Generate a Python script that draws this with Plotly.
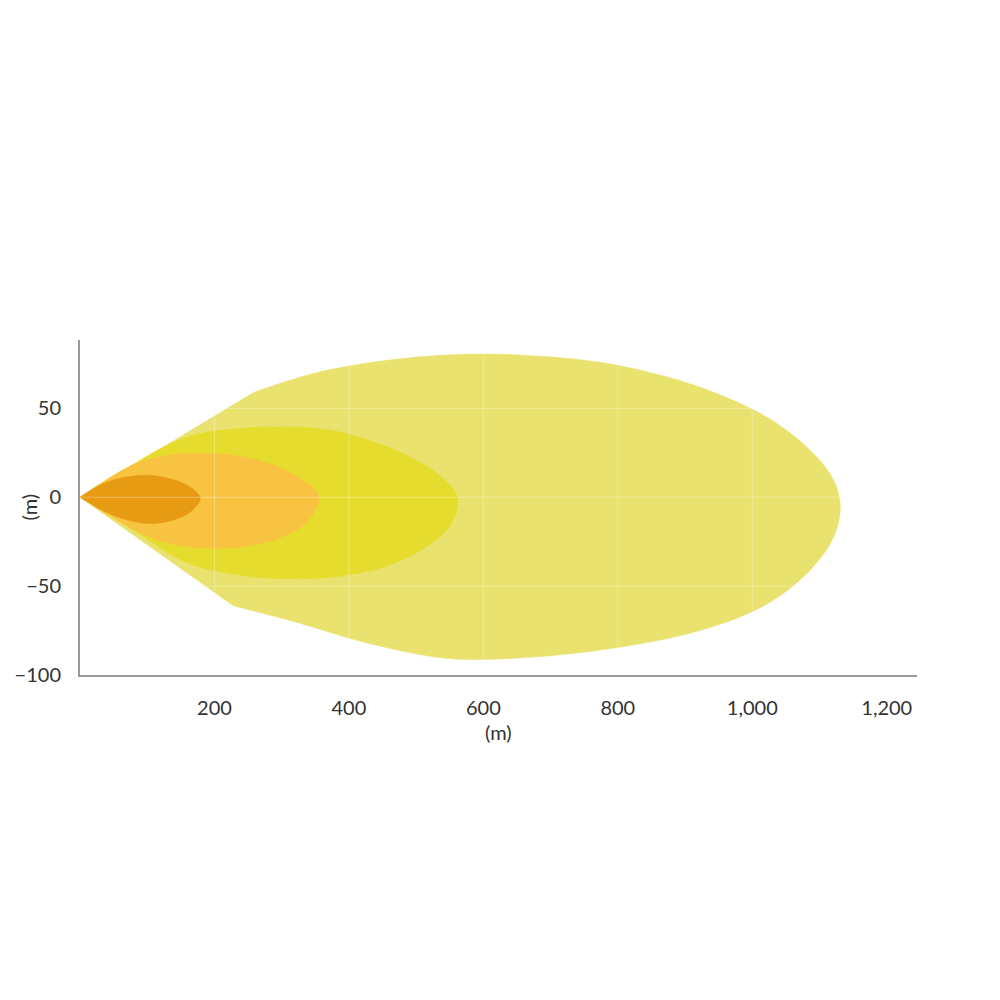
import plotly.graph_objects as go

# Iso-zone outlines (m); repeated points keep sharp corners with spline smoothing
outer_x = [0, 0, 258, 258, 340, 427, 520, 600, 680, 774, 850, 922, 1022, 1086, 1121, 1131, 1121, 1086, 1022, 922, 774, 625, 541, 427, 328, 228, 228, 0]
outer_y = [0, 0, 59, 59, 69, 75.5, 79.5, 80.6, 79.5, 76, 70, 62, 45, 26.5, 9.6, -5.5, -22.4, -41, -60, -75, -86, -91, -90.5, -82, -71, -61, -61, 0]

mid_x = [0, 0, 70, 120, 170, 230, 300, 370, 430, 476, 531, 561, 551, 511, 452, 377, 303, 241, 157, 80, 0]
mid_y = [0, 0, 16.3, 27.5, 35, 38.5, 39.6, 38, 32, 25.5, 13.4, 0.2, -15.8, -28.9, -39.3, -44.9, -45.8, -44, -36.5, -18.6, 0]

light_x = [0, 0, 82.5, 142, 201, 266, 320, 355, 340, 301, 241, 191.5, 132, 82.5, 0]
light_y = [0, 0, 19, 24.2, 24.6, 20.9, 12.4, 1.1, -13, -22.4, -28, -28.6, -26, -18.6, 0]

dark_x = [0, 0, 28, 60, 102, 142, 167, 179, 164, 137, 102, 63, 33, 0]
dark_y = [0, 0, 6.5, 10.8, 12.4, 9.6, 4.9, -0.7, -8.3, -13, -14.8, -12, -7.3, 0]

zone_colors = ["#E9E26E", "#E6DC2E", "#F9C342", "#E69B12"]

x_ticks = [200, 400, 600, 800, 1000, 1200]
y_ticks = [-100, -50, 0, 50]
x_range = [0, 1245]
y_range = [-100, 88.5]

fig = go.Figure()
for xs, ys, c in [(outer_x, outer_y, zone_colors[0]), (mid_x, mid_y, zone_colors[1]),
                  (light_x, light_y, zone_colors[2]), (dark_x, dark_y, zone_colors[3])]:
    fig.add_trace(go.Scatter(x=xs, y=ys, mode="lines", fill="toself", fillcolor=c,
                             line=dict(color=c, width=0.5, shape="spline", smoothing=1.0),
                             hoverinfo="skip", showlegend=False))

# faint grid drawn above the zones
shapes = []
for v in x_ticks[:-1]:
    shapes.append(dict(type="line", xref="x", yref="y", x0=v, x1=v, y0=y_range[0], y1=y_range[1],
                       line=dict(color="rgba(255,255,255,0.3)", width=1), layer="above"))
for v in y_ticks[1:]:
    shapes.append(dict(type="line", xref="x", yref="y", x0=x_range[0], x1=x_range[1], y0=v, y1=v,
                       line=dict(color="rgba(255,255,255,0.3)", width=1), layer="above"))

font = dict(family="Lato, 'Open Sans', sans-serif", size=20, color="#333333")
fig.update_layout(
    width=1000, height=1000,
    margin=dict(l=72, r=91, t=332, b=333),
    paper_bgcolor="white", plot_bgcolor="white",
    shapes=shapes,
    font=font,
    xaxis=dict(range=x_range, tickvals=x_ticks, tickformat=",", showgrid=False, zeroline=False,
               showline=True, linecolor="#9a9a9a", linewidth=2, ticks="", ticklabelstandoff=14,
               automargin=False, tickfont=font),
    yaxis=dict(range=y_range, tickvals=y_ticks, showgrid=False, zeroline=False,
               showline=True, linecolor="#9a9a9a", linewidth=2, ticks="", ticklabelstandoff=13,
               automargin=False, tickfont=font),
    annotations=[
        dict(text="(m)", xref="paper", yref="paper", x=0.5, y=0, yshift=-57, showarrow=False,
             font=font, xanchor="center", yanchor="middle"),
        dict(text="(m)", xref="paper", yref="paper", x=0, y=0.5, xshift=-52, showarrow=False,
             font=font, textangle=-90, xanchor="center", yanchor="middle"),
    ],
)

fig.write_html("out.html")
